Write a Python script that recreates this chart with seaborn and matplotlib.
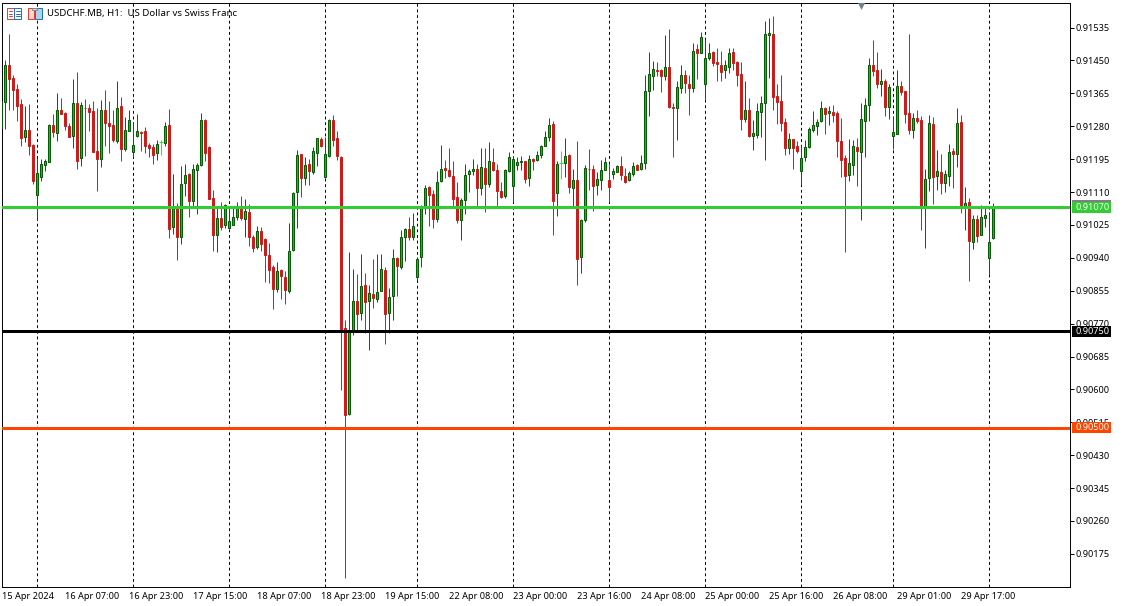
import numpy as np
import pandas as pd
import matplotlib
matplotlib.use("Agg")
import matplotlib.pyplot as plt
from matplotlib.patches import Rectangle
from matplotlib.lines import Line2D
import seaborn as sns

# Prices in 1/100000
opens = [91275,91343,91437,91404,91376,91337,91253,91270,91231,91103,
 91150,91181,91188,91282,91263,91321,91314,91280,91255,91339,
 91199,91328,91327,91319,91216,91196,91321,91288,91282,91243,
 91332,91222,91268,91213,91254,91265,91267,91231,91225,91212,
 91238,91237,91282,91019,91073,90995,91132,91156,91088,91168,
 91180,91295,91227,91095,90998,91043,91024,91018,91025,91045,
 91066,91039,91059,90994,90967,91010,90988,90948,90915,90860,
 90909,90891,90854,90959,91110,91207,91147,91182,91161,91212,
 91247,91150,91202,91295,91249,91200,90758,90536,90749,90829,
 90798,90871,90829,90847,90834,90854,90909,90798,90841,90940,
 90916,90993,91015,90993,90890,90942,91075,91123,91105,91040,
 91138,91172,91167,91151,91097,91037,91089,91156,91163,91169,
 91120,91172,91130,91187,91167,91113,91099,91163,91125,91181,
 91187,91190,91145,91195,91192,91205,91230,91251,91285,91107,
 91185,91184,91205,91120,91141,90942,91037,91170,91169,91127,
 91140,91168,91141,91156,91162,91177,91151,91140,91156,91181,
 91170,91186,91371,91410,91426,91425,91410,91432,91329,91328,
 91379,91412,91390,91379,91480,91469,91390,91456,91471,91445,
 91439,91425,91433,91471,91445,91414,91299,91321,91255,91258,
 91317,91340,91515,91517,91359,91346,91292,91224,91246,91228,
 91164,91201,91226,91270,91280,91293,91327,91314,91316,91314,
 91241,91197,91154,91180,91225,91213,91294,91335,91437,91424,
 91390,91398,91330,91255,91261,91383,91370,91313,91271,91300,
 91295,91073,91145,91285,91152,91161,91134,91152,91215,91209,
 91290,91071,91084,90980,91040,91000,91044,90939,90990]
highs = [91350,91452,91519,91412,91389,91350,91332,91337,91233,91197,
 91195,91195,91286,91311,91367,91352,91317,91289,91401,91419,
 91343,91349,91337,91346,91326,91347,91373,91346,91322,91397,
 91356,91304,91322,91292,91311,91268,91279,91237,91234,91244,
 91244,91290,91324,91157,91081,91176,91182,91158,91183,91184,
 91314,91298,91229,91115,91072,91083,91079,91071,91068,91083,
 91100,91092,91079,91000,91021,91019,90990,90978,90921,90930,
 90911,90905,91030,91109,91219,91209,91201,91195,91225,91250,
 91253,91251,91299,91310,91268,91204,90780,90956,90910,90897,
 90951,90900,90871,90936,90949,90951,90917,90863,90962,90942,
 91013,91016,91046,91056,90939,91077,91129,91126,91116,91163,
 91231,91193,91224,91191,91136,91095,91182,91169,91195,91182,
 91224,91224,91239,91224,91182,91136,91169,91214,91202,91200,
 91204,91191,91206,91198,91215,91232,91267,91301,91293,91191,
 91217,91250,91207,91169,91242,91041,91180,91221,91181,91162,
 91193,91201,91185,91172,91179,91204,91172,91163,91188,91183,
 91205,91412,91471,91448,91445,91428,91515,91530,91339,91396,
 91437,91425,91412,91494,91493,91524,91506,91494,91474,91483,
 91475,91450,91483,91481,91448,91445,91396,91354,91296,91340,
 91358,91553,91560,91566,91390,91412,91301,91262,91248,91242,
 91231,91244,91279,91320,91298,91344,91330,91332,91334,91318,
 91301,91205,91246,91244,91249,91340,91352,91457,91502,91471,
 91429,91403,91390,91306,91425,91396,91371,91517,91313,91322,
 91306,91170,91308,91304,91219,91208,91167,91233,91223,91327,
 91310,91123,91095,91051,91051,91077,91073,91055,91081]
lows = [91270,91274,91322,91322,91294,91229,91240,91206,91131,91037,
 91139,91163,91187,91253,91242,91311,91270,91251,91223,91170,
 91176,91203,91268,91213,91113,91174,91229,91212,91240,91237,
 91190,91216,91267,91201,91251,91217,91212,91200,91182,91193,
 91206,91229,90992,91002,90935,90976,91100,91046,91071,91054,
 91177,91191,91091,90958,90956,91012,91018,91017,91024,91038,
 91038,90995,90970,90956,90964,90957,90878,90875,90809,90851,
 90833,90820,90849,90957,91018,91097,91128,91128,91157,91177,
 91227,91146,91201,91229,91193,90599,90113,90535,90741,90751,
 90779,90747,90701,90810,90826,90853,90717,90745,90779,90841,
 90910,90931,90986,90986,90883,90916,91052,91023,91018,91032,
 91137,91146,91149,91073,91029,90986,91052,91109,91155,91073,
 91101,91058,91122,91163,91073,91094,91094,91162,91083,91168,
 91168,91134,91126,91168,91189,91198,91229,91243,91000,91049,
 91144,91150,91108,91075,90869,90902,91032,91114,91060,91103,
 91114,91166,91083,91144,91161,91142,91134,91138,91152,91166,
 91166,91170,91306,91373,91409,91368,91399,91328,91201,91244,
 91365,91367,91309,91368,91401,91468,91347,91450,91436,91396,
 91396,91404,91417,91425,91385,91270,91291,91253,91219,91249,
 91253,91193,91404,91322,91286,91268,91206,91208,91170,91212,
 91130,91191,91224,91265,91257,91291,91260,91283,91291,91201,
 91149,90956,91139,91154,91126,91038,91201,91294,91409,91378,
 91358,91306,91298,91222,91260,91360,91288,91260,91249,91288,
 91012,90966,91113,91079,91115,91105,91110,91126,91121,91175,
 91056,91012,90881,90963,90982,90999,91020,90897,90989]
closes = [91344,91437,91401,91373,91332,91250,91270,91230,91139,91158,
 91182,91189,91282,91266,91323,91312,91280,91253,91339,91191,
 91334,91327,91317,91214,91196,91323,91289,91280,91244,91328,
 91221,91270,91295,91231,91267,91263,91230,91224,91206,91235,
 91238,91280,91015,91071,90995,91130,91153,91087,91169,91179,
 91295,91212,91092,91000,91044,91020,91076,91035,91045,91071,
 91042,91061,90995,90966,91010,90976,90946,90909,90860,90906,
 90892,90858,90958,91107,91205,91147,91179,91163,91215,91249,
 91230,91207,91295,91245,91204,90756,90534,90751,90829,90795,
 90868,90826,90850,90835,90852,90912,90795,90840,90940,90919,
 90994,91015,90993,91023,90937,91071,91120,91102,91040,91136,
 91169,91166,91152,91093,91037,91089,91154,91164,91169,91120,
 91175,91130,91190,91166,91112,91096,91167,91200,91195,91187,
 91190,91144,91194,91189,91205,91229,91252,91283,91088,91182,
 91185,91203,91122,91141,90938,91038,91172,91169,91126,91144,
 91167,91187,91124,91164,91177,91153,91137,91158,91177,91168,
 91185,91370,91414,91429,91423,91410,91434,91329,91328,91380,
 91413,91391,91378,91475,91469,91511,91455,91468,91443,91440,
 91420,91437,91470,91442,91413,91298,91321,91255,91262,91318,
 91339,91519,91520,91355,91343,91289,91224,91246,91224,91216,
 91197,91225,91272,91282,91292,91326,91311,91318,91309,91242,
 91193,91152,91184,91228,91216,91298,91336,91437,91422,91389,
 91398,91329,91380,91264,91383,91368,91311,91270,91300,91293,
 91073,91143,91287,91149,91164,91134,91156,91213,91208,91287,
 91074,91081,90984,91040,90997,91045,91050,90981,91074]

y_ticks = [91535,91450,91365,91280,91195,91110,91025,90940,90855,90770,
           90685,90600,90515,90430,90345,90260,90175]
x_tick_idx = [0,16,32,48,64,80,96,112,128,144,160,176,192,208,224,240]
x_tick_labels = ["15 Apr 2024","16 Apr 07:00","16 Apr 23:00","17 Apr 15:00","18 Apr 07:00",
                 "18 Apr 23:00","19 Apr 15:00","22 Apr 08:00","23 Apr 00:00","23 Apr 16:00",
                 "24 Apr 08:00","25 Apr 00:00","25 Apr 16:00","26 Apr 08:00","29 Apr 01:00",
                 "29 Apr 17:00"]
separator_idx = [9,33,57,81,104,128,152,176,200,223,247]
level_prices = [91070, 90750, 90500]
level_colors = ["#32CD32", "#000000", "#FF4500"]
level_labels = ["0.91070", "0.90750", "0.90500"]
bid_price = 91074
marker_idx = 215
marker_price = 91592
title_text = "USDCHF.MB, H1:  US Dollar vs Swiss Franc"

assert len(opens) == len(highs) == len(lows) == len(closes) == 249

W, H = 1123, 606
FONT = "Noto Sans"
sns.set_theme(style="white", rc={"font.family": FONT, "axes.linewidth": 0.7})
fig = plt.figure(figsize=(W/100, H/100), dpi=100, facecolor="white")
L, R, T, B = 1.5, 1069.5, 2.5, 586.5
ax = fig.add_axes([L/W, 1-B/H, (R-L)/W, (B-T)/H], facecolor="white")

def px_rect(x0, y0, x1, y1, **kw):
    r = Rectangle((x0/W, 1-y1/H), (x1-x0)/W, (y1-y0)/H, transform=fig.transFigure, **kw)
    fig.add_artist(r)
    return r

o = np.array(opens)/1e5; h = np.array(highs)/1e5; l = np.array(lows)/1e5; c = np.array(closes)/1e5
idx = np.arange(len(o))
kind = np.where(c > o, "up", np.where(c < o, "down", "doji"))

# separators
for s in separator_idx:
    ax.axvline(s, color="black", lw=0.7, ls=(0, (3, 2.8)), zorder=1)

# wicks
wicks = pd.DataFrame({
    "i": np.r_[idx, idx],
    "price": np.r_[h, l],
    "kind": np.r_[kind, kind],
})
sns.lineplot(data=wicks, x="i", y="price", hue="kind", units="i", estimator=None,
             palette={"up": "#006400", "down": "#A52A2A", "doji": "#00FF00"},
             legend=False, linewidth=0.7, ax=ax, zorder=2, solid_capstyle="butt")

# bodies
body_bottom = np.minimum(o, c)
body_height = np.abs(c - o)
up = kind == "up"; down = kind == "down"; doji = kind == "doji"
ax.bar(idx[up], body_height[up], bottom=body_bottom[up], width=0.5, color="#00CC00",
       edgecolor="#005A00", linewidth=0.7, zorder=3)
ax.bar(idx[down], body_height[down], bottom=body_bottom[down], width=0.5, color="#CC1A1A",
       edgecolor="#CC1A1A", linewidth=0.7, zorder=3)
ax.hlines(o[doji], idx[doji]-0.5, idx[doji]+0.5, color="#00FF00", lw=0.7, zorder=3)

# price levels
ax.axhline(bid_price/1e5, color="#808080", lw=0.7, zorder=4)
for p, col in zip(level_prices, level_colors):
    ax.axhline(p/1e5, color=col, lw=2.16, zorder=5)

# one-click marker
ax.scatter([marker_idx], [marker_price/1e5], marker="v", s=42, color="#708090",
           linewidths=0, zorder=6)

ax.set_xlim((L-1.33)/4, (R-1.33)/4)
p_per_px = 85/32.9
ax.set_ylim((91110-(B-192)*p_per_px)/1e5, (91110+(192-T)*p_per_px)/1e5)
ax.yaxis.tick_right()
ax.set_yticks(np.array(y_ticks)/1e5)
ax.set_yticklabels([f"{v/1e5:.5f}" for v in y_ticks])
ax.set_xticks(x_tick_idx)
ax.set_xticklabels(x_tick_labels, ha="left")
ax.tick_params(axis="both", direction="out", length=2.9, width=0.7, color="black",
               labelcolor="black", labelsize=6.6, pad=1.6)
ax.tick_params(axis="x", pad=1.0)
ax.set_xlabel(""); ax.set_ylabel("")
for sp in ax.spines.values():
    sp.set_visible(True); sp.set_color("black"); sp.set_linewidth(0.7)

# price tags on the scale
tag_y = [(202, 213), (326, 337), (422, 433)]
for (y0, y1), col, txt in zip(tag_y, level_colors, level_labels):
    px_rect(1072, y0, 1111, y1, facecolor=col, edgecolor="none")
    fig.text(1075/W, 1-(y0+y1)/2/H, txt, color="white", fontsize=6.6, family=FONT,
             va="center", ha="left")
px_rect(1072, 200, 1111, 202, facecolor="#808080", edgecolor="none")

# header icons
def list_icon(x0, x1, col):
    px_rect(x0, 8, x1, 18.5, facecolor="white", edgecolor=col, linewidth=0.7)
    for yy in (11, 13.5, 16):
        fig.add_artist(Line2D([(x0+2)/W, (x1-1.5)/W], [1-yy/H]*2, color=col, lw=0.7,
                              transform=fig.transFigure))
list_icon(6.5, 13.5, "#E8392B")
list_icon(14, 21, "#1F6FB5")
px_rect(27.5, 8, 34, 18.5, facecolor="#FAD9D2", edgecolor="#E8392B", linewidth=0.7)
px_rect(34.5, 8, 41.5, 18.5, facecolor="#A8D4F0", edgecolor="#1F6FB5", linewidth=0.7)
px_rect(32, 7.5, 37, 10, facecolor="#D8D8D8", edgecolor="#808080", linewidth=0.6)

fig.text(47/W, 1-13.5/H, title_text, color="black", fontsize=6.95, family=FONT,
         va="center", ha="left")

fig.savefig("out.png", dpi=100, facecolor="white")
